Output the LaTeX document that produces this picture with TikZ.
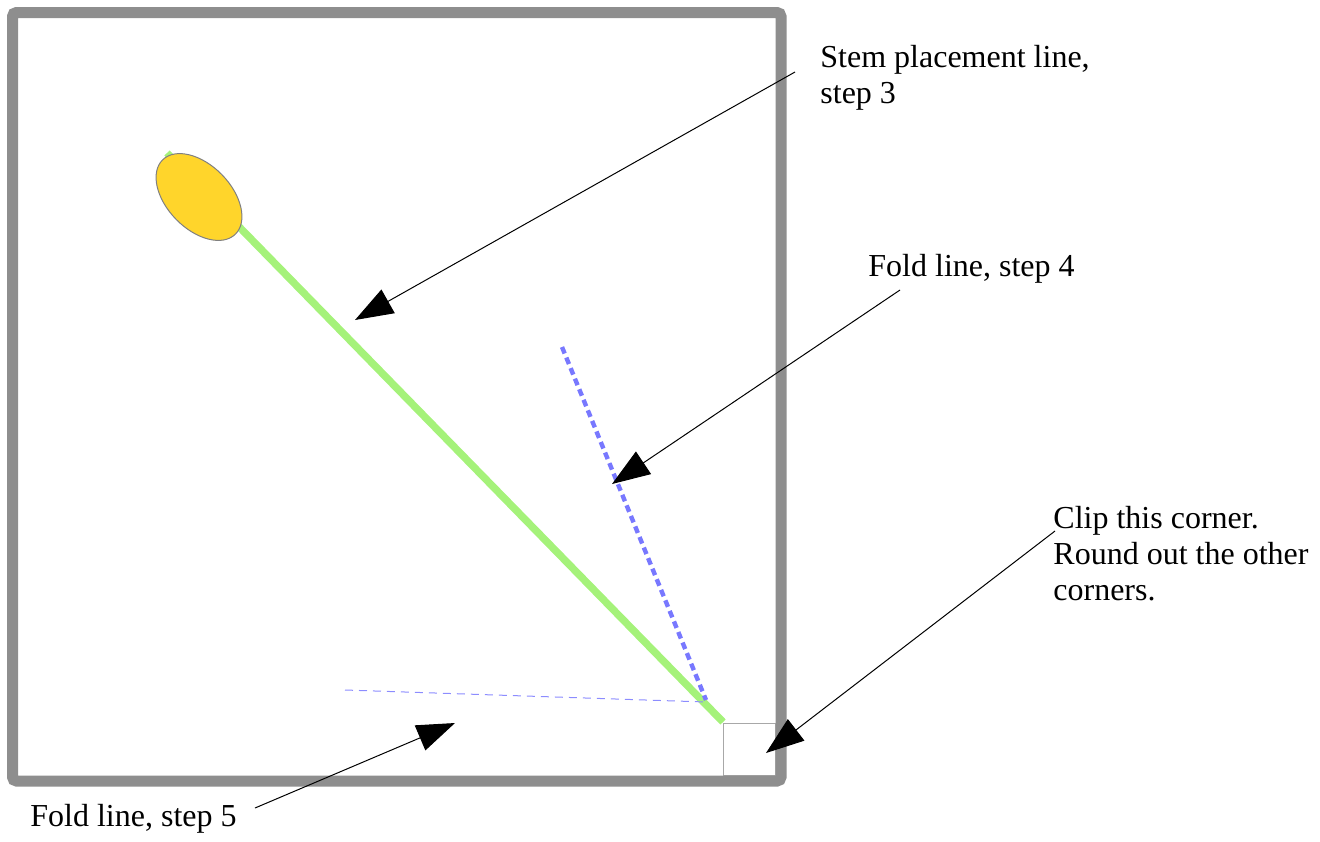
\documentclass[tikz,border=0pt]{standalone}
\usepackage{fontspec}
\setmainfont{Liberation Serif}
\usepackage{xcolor}
\definecolor{cFrame}{HTML}{8E8E8E}
\definecolor{cStem} {HTML}{A5F27A}
\definecolor{cBud}  {HTML}{FFD52B}
\definecolor{cFold} {HTML}{7878FF}
\definecolor{cCut}  {HTML}{A8A8A8}
\usetikzlibrary{arrows.meta}
\tikzset{
  frame/.style = {draw=cFrame, line width=5.5pt, rounded corners=2pt},
  stem/.style  = {draw=cStem, line width=3.7pt},
  bud/.style   = {draw=gray, fill=cBud, line width=0.5pt},
  foldA/.style = {draw=cFold, line width=2.2pt,
                  dash pattern=on 3.5pt off 2.2pt},
  foldB/.style = {draw=cFold!85, line width=0.5pt,
                  dash pattern=on 4pt off 3pt},
  cutbox/.style = {draw=cCut, line width=0.5pt},
  lbl/.style   = {anchor=north west, inner sep=0pt, align=left,
                  font=\fontsize{16}{18}\selectfont},
  arr/.style   = {-{Triangle[length=19pt,width=13.5pt]}, line width=0.5pt},
}

\begin{document}
\begin{tikzpicture}[x=0.5pt, y=-0.5pt]
  \useasboundingbox (0,0) rectangle (1320,841);

  % square to clip, under the frame
  \draw[cutbox] (723,723) rectangle (775,775);

  % paper
  \draw[frame] (12.5,12.5) rectangle (781,781);

  % stem and bud
  \draw[stem] (167,153) -- (723,722);
  \draw[bud, rotate around={-45.7:(199,197)}] (199,197) ellipse (52 and 32);

  % fold lines
  \draw[foldA] (562,347) -- (706,700);
  \draw[foldB] (345,690) -- (706,702);

  % labels
  \node[lbl] (stemlbl) at (820,45)  {Stem placement line,\\step 3};
  \node[lbl] (fold4)   at (868,254) {Fold line, step 4};
  \node[lbl] (cutlbl)  at (1053,506) {Clip this corner.\\Round out the other\\corners.};
  \node[lbl] (fold5)   at (30,804)  {Fold line, step 5};

  % arrow ends
  \coordinate (stemT) at (795,72);
  \coordinate (stemH) at (355,320);
  \coordinate (f4T)   at (900,290);
  \coordinate (f4H)   at (612,484);
  \coordinate (cutT)  at (1055,531);
  \coordinate (cutH)  at (766,753);
  \coordinate (f5T)   at (255,808);
  \coordinate (f5H)   at (455,723);

  \draw[arr] (stemT) -- (stemH);
  \draw[arr] (f4T) -- (f4H);
  \draw[arr] (cutT) -- (cutH);
  \draw[arr] (f5T) -- (f5H);
\end{tikzpicture}
\end{document}
